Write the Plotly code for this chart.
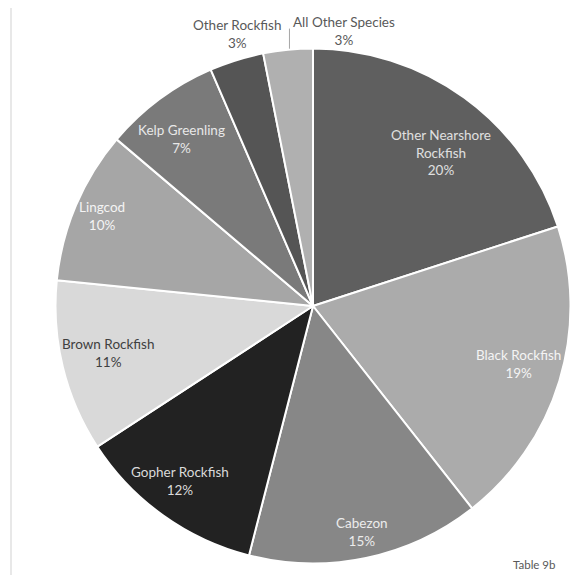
import math
import plotly.graph_objects as go

# ---- data ----
species = ["Other Nearshore<br>Rockfish", "Black Rockfish", "Cabezon", "Gopher Rockfish",
           "Brown Rockfish", "Lingcod", "Kelp Greenling", "Other Rockfish", "All Other Species"]
shares = [20.0, 19.4, 14.6, 11.8, 10.8, 9.6, 7.3, 3.4, 3.1]
note_text = "Table 9b"

# ---- style ----
slice_colors = ["#5f5f5f", "#ababab", "#878787", "#222222", "#d9d9d9",
                "#a6a6a6", "#7a7a7a", "#555555", "#b0b0b0"]
label_colors = ["#e0e0e0", "#f4f4f4", "#ececec", "#dadada", "#404040",
                "#f4f4f4", "#e8e8e8", "#595959", "#595959"]
# radial factor and small angular nudge (deg) for each label
label_r = [0.775, 0.831, 0.898, 0.854, 0.815, 0.891, 0.827, 1.095, 1.098]
label_nudge = [3.9, -1.2, -0.3, 1.6, 0.8, 0.1, -1.6, 1.7, 0.0]
outside = [False] * 8 + [True]

# page body has an 8px margin: figure is placed at (8, 8) in the window
OFF = 8
WIN_W, WIN_H = 579, 575
W, H = WIN_W - OFF, WIN_H - OFF
CX, CY, R = 313.0, 306.0, 257.5   # window pixel coords
FONT = "Lato"


def px(x):
    return (x - OFF) / W


def py(y):
    return 1 - (y - OFF) / H


fig = go.Figure(go.Pie(
    labels=species, values=shares, sort=False, direction="clockwise", rotation=0,
    marker=dict(colors=slice_colors, line=dict(color="white", width=2)),
    textinfo="none", hoverinfo="label+percent", showlegend=False,
    domain=dict(x=[px(CX - R), px(CX + R)], y=[py(CY + R), py(CY - R)]),
))

total = sum(shares)
annotations = []
shapes = []
cum = 0.0
for i, (name, v) in enumerate(zip(species, shares)):
    mid = (cum + v / 2) / total * 360.0
    cum += v
    pct = f"{round(v / total * 100):.0f}%"
    text = f"{name}<br>{pct}"
    if outside[i]:
        a = math.radians(mid)
        lx = CX + R * math.sin(a) + 1.5
        ly0 = CY - R * math.cos(a) - 1
        ly1 = CY - R * label_r[i] * math.cos(a) + 4
        shapes.append(dict(type="line", xref="paper", yref="paper",
                           x0=px(lx), x1=px(lx), y0=py(ly0), y1=py(ly1),
                           line=dict(color="#a6a6a6", width=1)))
        annotations.append(dict(x=px(lx + 2), y=py(ly1 + 2), xref="paper", yref="paper",
                                text=text, showarrow=False, xanchor="left", yanchor="middle",
                                align="center",
                                font=dict(family=FONT, size=13.5, color=label_colors[i])))
    else:
        a = math.radians(mid + label_nudge[i])
        lx = CX + R * label_r[i] * math.sin(a)
        ly = CY - R * label_r[i] * math.cos(a)
        annotations.append(dict(x=px(lx), y=py(ly), xref="paper", yref="paper",
                                text=text, showarrow=False, xanchor="center", yanchor="middle",
                                align="center",
                                font=dict(family=FONT, size=13.5, color=label_colors[i])))

annotations.append(dict(x=px(534), y=py(564), xref="paper", yref="paper", text=note_text,
                        showarrow=False, xanchor="center", yanchor="middle",
                        font=dict(family=FONT, size=11.5, color="#595959")))

# outer frame (partially cropped)
shapes.append(dict(type="line", xref="paper", yref="paper", x0=px(11), x1=1.05,
                   y0=py(7.5), y1=py(7.5), line=dict(color="#d9d9d9", width=1.2)))
shapes.append(dict(type="line", xref="paper", yref="paper", x0=px(11), x1=px(11),
                   y0=py(7.5), y1=-0.05, line=dict(color="#d9d9d9", width=1.2)))

fig.update_layout(width=W, height=H, margin=dict(l=0, r=0, t=0, b=0),
                  paper_bgcolor="white", plot_bgcolor="white",
                  annotations=annotations, shapes=shapes,
                  font=dict(family=FONT))
fig.write_html("out.html")
